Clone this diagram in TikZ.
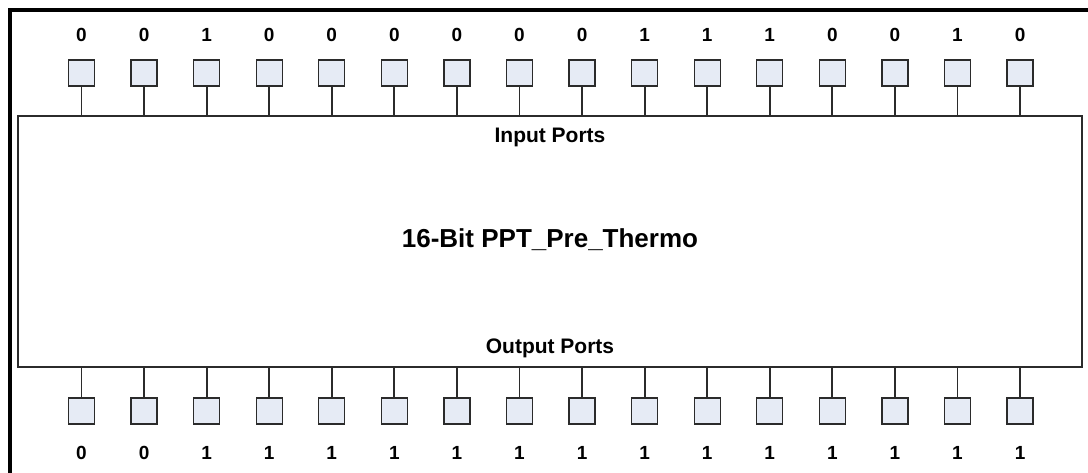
\documentclass[tikz,border=0pt]{standalone}
\usepackage{fontspec}
\setmainfont{Liberation Sans}
\usetikzlibrary{positioning}

\definecolor{portfill}{HTML}{E6EBF5}
\definecolor{wirecol}{HTML}{2B2B2B}

\tikzset{
  port/.style={draw=wirecol, fill=portfill, line width=1.4pt, minimum size=26pt, inner sep=0pt},
  bitlbl/.style={font=\bfseries\fontsize{19}{19}\selectfont, inner sep=0pt},
  portlbl/.style={font=\bfseries\fontsize{21}{21}\selectfont, inner sep=0pt},
  chiplbl/.style={font=\bfseries\fontsize{26}{26}\selectfont, inner sep=0pt},
  chipbox/.style={draw=wirecol, line width=1.4pt, minimum width=1064pt, minimum height=251pt, inner sep=0pt},
  wire/.style={draw=wirecol, line width=1.8pt}
}

\begin{document}
\begin{tikzpicture}[x=1pt,y=-1pt]
  \useasboundingbox (0,0) rectangle (1088,472);
  % frame
  \draw [black, line width=4pt] (9.5,474) -- (9.5,9.5) -- (1090,9.5);

  \node [chipbox] (chip) at (550,241.5) {};
  \node [chiplbl] (name) at (550,240) {16-Bit PPT\_Pre\_Thermo};
  \node [portlbl] (inlbl) at (550,137.5) {Input Ports};
  \node [portlbl] (outlbl) at (550,348) {Output Ports};

  % input side
  \foreach \b [count=\i from 0] in {0,0,1,0,0,0,0,0,0,1,1,1,0,0,1,0} {
    \node [port] (in\i) at (81.5+62.57*\i,73) {};
    \node [bitlbl] (inbit\i) at (81.5+62.57*\i,35) {\b};
    \draw [wire] (in\i.south) -- (in\i.south |- chip.north);
  }

  % output side
  \foreach \b [count=\i from 0] in {0,0,1,1,1,1,1,1,1,1,1,1,1,1,1,1} {
    \node [port] (out\i) at (81.5+62.57*\i,411) {};
    \node [bitlbl] (outbit\i) at (81.5+62.57*\i,453) {\b};
    \draw [wire] (out\i.north) -- (out\i.north |- chip.south);
  }
\end{tikzpicture}
\end{document}
